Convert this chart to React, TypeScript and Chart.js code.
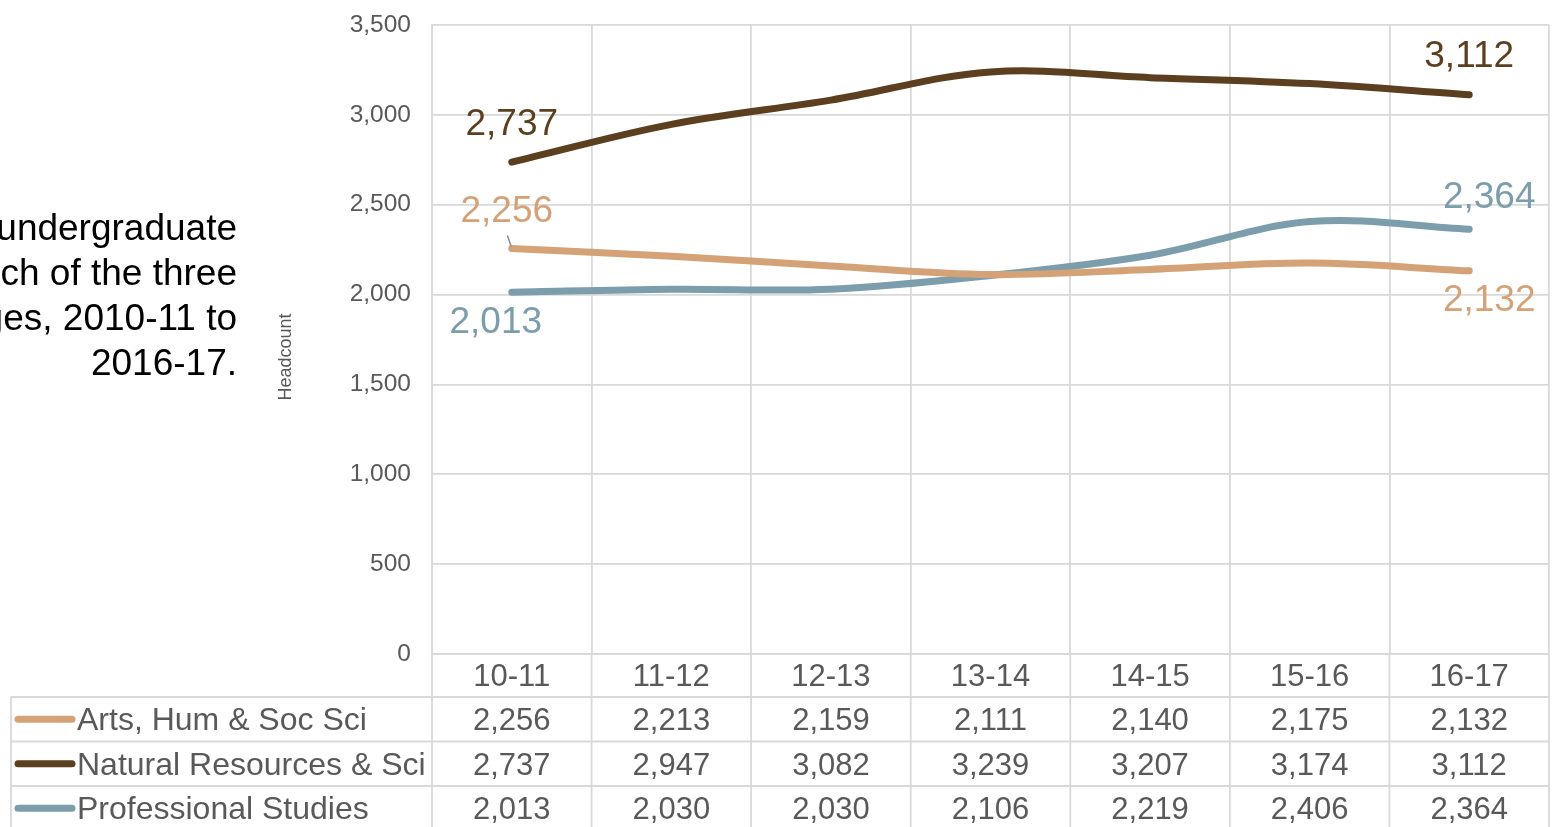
import React, { useEffect, useRef } from "react";
import { Chart, registerables } from "chart.js";

Chart.register(...registerables);

const categories = ["10-11", "11-12", "12-13", "13-14", "14-15", "15-16", "16-17"];
const seriesNames = ["Arts, Hum & Soc Sci", "Natural Resources & Sci", "Professional Studies"];
const artsValues = [2256, 2213, 2159, 2111, 2140, 2175, 2132];
const naturalValues = [2737, 2947, 3082, 3239, 3207, 3174, 3112];
const professionalValues = [2013, 2030, 2030, 2106, 2219, 2406, 2364];
const titleLines = ["undergraduate", "ch of the three", "ges, 2010-11 to", "2016-17."];
const yAxisTitle = "Headcount";

const FONT = "'Liberation Sans', Arial, sans-serif";
const GRAY = "#595959";
const GRID = "#d9d9d9";
const COLORS = ["#d4a276", "#5b3f1f", "#7b9dac"];

// label placement offsets (style): [first point, last point]
const labelOffsets = [
  [{ dx: -5, dy: -38, leader: true }, { dx: 20, dy: 29 }],
  [{ dx: 0, dy: -38 }, { dx: 0, dy: -39 }],
  [{ dx: -16, dy: 30 }, { dx: 20, dy: -32 }],
];

const fmt = (v: number) => v.toLocaleString("en-US");

const extrasPlugin = {
  id: "extras",
  afterDraw(chart: any) {
    const ctx = chart.ctx as CanvasRenderingContext2D;
    const xs = chart.scales.x;
    const ys = chart.scales.y;
    const area = chart.chartArea;
    const colW = (area.right - area.left) / categories.length;
    ctx.save();

    // title text (left)
    ctx.fillStyle = "#000";
    ctx.font = `37px ${FONT}`;
    ctx.textAlign = "right";
    ctx.textBaseline = "middle";
    titleLines.forEach((t, i) => ctx.fillText(t, 237, 230 + i * 45));

    // y axis title
    ctx.save();
    ctx.translate(286, 357);
    ctx.rotate(-Math.PI / 2);
    ctx.fillStyle = GRAY;
    ctx.font = `18px ${FONT}`;
    ctx.textAlign = "center";
    ctx.fillText(yAxisTitle, 0, 0);
    ctx.restore();

    // data table
    const headerBottom = area.bottom + 43;
    const rowH = 44.5;
    ctx.strokeStyle = GRID;
    ctx.lineWidth = 1.8;
    ctx.beginPath();
    for (let r = 0; r < 3; r++) {
      const y = headerBottom + r * rowH;
      ctx.moveTo(11, y);
      ctx.lineTo(area.right, y);
    }
    for (let i = 0; i <= categories.length; i++) {
      const x = area.left + i * colW;
      ctx.moveTo(x, area.bottom);
      ctx.lineTo(x, chart.height);
    }
    ctx.moveTo(11, headerBottom);
    ctx.lineTo(11, chart.height);
    ctx.stroke();

    const allValues = [artsValues, naturalValues, professionalValues];
    allValues.forEach((vals, r) => {
      const cy = headerBottom + r * rowH + rowH / 2;
      ctx.strokeStyle = COLORS[r];
      ctx.lineWidth = 7;
      ctx.lineCap = "round";
      ctx.beginPath();
      ctx.moveTo(18, cy);
      ctx.lineTo(72, cy);
      ctx.stroke();
      ctx.fillStyle = GRAY;
      ctx.font = `32px ${FONT}`;
      ctx.textAlign = "left";
      ctx.textBaseline = "middle";
      ctx.fillText(seriesNames[r], 77, cy + 2);
      ctx.font = `31px ${FONT}`;
      ctx.textAlign = "center";
      vals.forEach((v, i) => {
        ctx.fillText(fmt(v), xs.getPixelForValue(i), cy + 2.5);
      });
    });

    // data labels on first and last points
    ctx.font = `37px ${FONT}`;
    ctx.textAlign = "center";
    ctx.textBaseline = "middle";
    allValues.forEach((vals, r) => {
      const idxs = [0, vals.length - 1];
      idxs.forEach((idx, k) => {
        const off: any = labelOffsets[r][k];
        const px = xs.getPixelForValue(idx);
        const py = ys.getPixelForValue(vals[idx]);
        if (off.leader) {
          ctx.strokeStyle = "#8c8c8c";
          ctx.lineWidth = 1.5;
          ctx.lineCap = "butt";
          ctx.beginPath();
          ctx.moveTo(px - 4.5, py - 13);
          ctx.lineTo(px - 0.5, py - 2);
          ctx.stroke();
        }
        ctx.fillStyle = COLORS[r];
        ctx.fillText(fmt(vals[idx]), px + off.dx, py + off.dy + 1);
      });
    });
    ctx.restore();
  },
};

export default function App() {
  const ref = useRef<HTMLCanvasElement | null>(null);
  useEffect(() => {
    if (!ref.current) return;
    const datasets = [artsValues, naturalValues, professionalValues].map((vals, i) => ({
      label: seriesNames[i],
      data: vals,
      borderColor: COLORS[i],
      backgroundColor: COLORS[i],
      borderWidth: 7,
      borderCapStyle: "round" as const,
      borderJoinStyle: "round" as const,
      pointRadius: 0,
      tension: 0.35,
      fill: false,
    }));
    const chart = new Chart(ref.current, {
      type: "line",
      data: { labels: categories, datasets },
      options: {
        animation: false,
        responsive: false,
        maintainAspectRatio: false,
        layout: { padding: { top: 25, right: 10, bottom: 0, left: 0 } },
        plugins: { legend: { display: false }, tooltip: { enabled: false }, title: { display: false } },
        scales: {
          x: {
            type: "category",
            offset: true,
            grid: { offset: true, color: GRID, lineWidth: 1.8, drawTicks: false },
            border: { color: GRID, width: 1.8 },
            ticks: { color: GRAY, font: { family: FONT, size: 31 }, padding: 5, maxRotation: 0, autoSkip: false },
            afterFit: (s: any) => { s.height = 173; s.paddingLeft = 0; s.paddingRight = 0; },
          },
          y: {
            min: 0,
            max: 3500,
            grid: { color: GRID, lineWidth: 1.8, drawTicks: false },
            border: { color: GRID, width: 1.8 },
            ticks: {
              stepSize: 500,
              color: GRAY,
              font: { family: FONT, size: 24.5 },
              padding: 21,
              callback: (v: any) => fmt(Number(v)),
            },
            afterFit: (s: any) => { s.width = 432; s.paddingTop = 0; s.paddingBottom = 0; },
          },
        },
      },
      plugins: [extrasPlugin],
    });
    return () => chart.destroy();
  }, []);
  return (
    <div style={{ position: "absolute", left: 0, top: 0, width: 1559, height: 827, overflow: "hidden", background: "#fff" }}>
      <canvas ref={ref} width={1559} height={827} />
    </div>
  );
}
